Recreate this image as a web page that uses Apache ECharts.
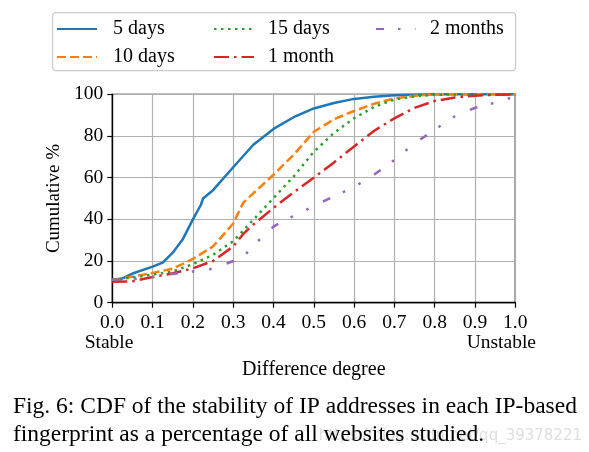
<!DOCTYPE html>
<html><head><meta charset="utf-8">
<script src="https://cdn.jsdelivr.net/npm/echarts@6/dist/echarts.min.js"></script>
<style>html,body{margin:0;padding:0;background:#fff}#c{width:589px;height:452px}</style>
</head><body><div id="c"></div>
<script>
// ---- data ----
const seriesNames = ['5 days', '10 days', '15 days', '1 month', '2 months'];
const xs5d  = [0, 0.02, 0.05, 0.1, 0.125, 0.15, 0.175, 0.2, 0.22, 0.225, 0.25, 0.3, 0.35, 0.4, 0.45, 0.5, 0.55, 0.6, 0.65, 0.7, 0.75, 0.8, 0.9, 1.0];
const ys5d  = [10.5, 11.2, 14, 17.3, 19.2, 24, 30.5, 40, 47, 50, 54, 65, 75.8, 83.4, 89, 93.2, 95.8, 97.8, 98.8, 99.5, 99.8, 100, 100, 100];
const xs10d = [0, 0.05, 0.1, 0.15, 0.2, 0.25, 0.3, 0.325, 0.35, 0.4, 0.45, 0.5, 0.55, 0.6, 0.65, 0.7, 0.75, 0.8, 0.9, 1.0];
const ys10d = [11, 12.5, 14.3, 16.3, 21, 27, 38, 48, 52.5, 61.4, 71, 82, 88, 92, 95.5, 98, 99.3, 100, 100, 100];
const xs15d = [0, 0.05, 0.1, 0.15, 0.2, 0.25, 0.3, 0.35, 0.4, 0.45, 0.5, 0.55, 0.6, 0.65, 0.7, 0.75, 0.8, 0.9, 1.0];
const ys15d = [11, 12, 13.5, 15, 18.5, 23, 29.5, 39.8, 50.2, 60.6, 72.4, 81.5, 88.5, 94, 97.5, 99, 99.8, 100, 100];
const xs1m  = [0, 0.05, 0.1, 0.15, 0.2, 0.25, 0.3, 0.325, 0.35, 0.4, 0.45, 0.5, 0.55, 0.6, 0.65, 0.7, 0.75, 0.8, 0.85, 0.9, 0.95, 1.0];
const ys1m  = [10, 10.3, 12.3, 14.1, 16.5, 20, 27, 33, 37.5, 45.5, 53, 60, 67.3, 75, 82.5, 88.5, 93.5, 96.8, 98.5, 99.3, 99.8, 100];
const xs2m  = [0, 0.05, 0.1, 0.15, 0.2, 0.25, 0.3, 0.33, 0.35, 0.4, 0.43, 0.47, 0.5, 0.55, 0.6, 0.65, 0.7, 0.75, 0.8, 0.85, 0.9, 0.95, 1.0];
const ys2m  = [11, 11.2, 12.3, 13.8, 15, 16.3, 20, 23, 27.5, 36.5, 39.8, 43.3, 46.5, 51, 55.5, 61.5, 68.5, 76.5, 83, 89.5, 93.5, 96, 99];
const xTicks = [0, 0.1, 0.2, 0.3, 0.4, 0.5, 0.6, 0.7, 0.8, 0.9, 1.0];
const yTicks = [0, 20, 40, 60, 80, 100];

const xsList = [xs5d, xs10d, xs15d, xs1m, xs2m];
const ysList = [ys5d, ys10d, ys15d, ys1m, ys2m];
const colors = ['#1f77b4', '#ff7f0e', '#2ca02c', '#d62728', '#9467bd'];
const dashes = ['solid', [9, 4], [2.5, 4.5], [15, 5, 2.5, 5], [8, 14, 2.5, 15, 2.5, 16]];

const serif = 'Liberation Serif';
const chart = echarts.init(document.getElementById('c'), null, {renderer: 'canvas'});

const series = seriesNames.map((n, i) => ({
  name: n, type: 'line', symbol: 'none', smooth: false,
  data: xsList[i].map((x, k) => [x, ysList[i][k]]),
  lineStyle: {color: colors[i], width: 2.5, type: dashes[i], cap: 'butt'},
  itemStyle: {color: colors[i]},
  z: 3 + i
}));

function legendAt(left, names, pad) {
  return {
    orient: 'vertical', top: 14, left: left, data: names,
    itemWidth: 40, itemHeight: 12, itemGap: 8,
    textStyle: {fontFamily: serif, fontSize: 20, color: '#000', padding: [0, 0, 0, pad]},
    itemStyle: {opacity: 0},
    inactiveColor: '#ccc'
  };
}

chart.setOption({
  animation: false,
  color: colors,
  grid: {left: 112.3, right: 73.7, top: 94.3, bottom: 149.3, show: true, borderColor: '#000', borderWidth: 1.3, containLabel: false},
  legend: [
    legendAt(51, ['5 days', '10 days'], 11),
    legendAt(208, ['15 days', '1 month'], 9),
    legendAt(370, ['2 months'], 9)
  ],
  xAxis: {
    type: 'value', min: xTicks[0], max: xTicks[xTicks.length - 1], interval: 0.1,
    name: 'Difference degree', nameLocation: 'middle', nameGap: 57,
    nameTextStyle: {fontFamily: serif, fontSize: 20, color: '#000'},
    axisLine: {show: true, lineStyle: {color: '#000', width: 1.3}},
    axisTick: {show: true, inside: false, length: 5, lineStyle: {color: '#000', width: 1.2}},
    axisLabel: {fontFamily: serif, fontSize: 19.5, color: '#000', margin: 10, formatter: v => v.toFixed(1)},
    splitLine: {show: true, lineStyle: {color: '#b0b0b0', width: 1.2}}
  },
  yAxis: {
    type: 'value', min: yTicks[0], max: yTicks[yTicks.length - 1], interval: 20,
    name: 'Cumulative %', nameLocation: 'middle', nameGap: 48, nameRotate: 90,
    nameTextStyle: {fontFamily: serif, fontSize: 19, color: '#000'},
    axisLine: {show: true, lineStyle: {color: '#000', width: 1.3}},
    axisTick: {show: true, inside: false, length: 5, lineStyle: {color: '#000', width: 1.2}},
    axisLabel: {fontFamily: serif, fontSize: 19.5, color: '#000', margin: 9},
    splitLine: {show: true, lineStyle: {color: '#b0b0b0', width: 1.2}}
  },
  graphic: [
    {type: 'rect', left: 52, top: 12, z: -1, silent: true,
     shape: {width: 463, height: 58, r: 3}, style: {fill: '#fff', stroke: '#cccccc', lineWidth: 1.2}},
    {type: 'text', x: 109, y: 343, silent: true,
     style: {text: 'Stable', fontFamily: serif, fontSize: 19.5, fill: '#000', textAlign: 'center', textVerticalAlign: 'middle'}},
    {type: 'text', x: 536, y: 343, silent: true,
     style: {text: 'Unstable', fontFamily: serif, fontSize: 19.5, fill: '#000', textAlign: 'right', textVerticalAlign: 'middle'}},
    {type: 'text', x: 582, y: 436, silent: true, z: 0,
     style: {text: 'https://blog.csdn.net/qq_39378221', fontFamily: 'DejaVu Sans', fontSize: 15, fill: 'rgba(190,190,190,0.5)', textAlign: 'right', textVerticalAlign: 'middle'}},
    {type: 'text', x: 13, y: 407, silent: true, z: 10,
     style: {text: 'Fig. 6: CDF of the stability of IP addresses in each IP-based', fontFamily: serif, fontSize: 23.5, fill: '#000', textAlign: 'left', textVerticalAlign: 'middle'}},
    {type: 'text', x: 13, y: 435, silent: true, z: 10,
     style: {text: 'fingerprint as a percentage of all websites studied.', fontFamily: serif, fontSize: 23.5, fill: '#000', textAlign: 'left', textVerticalAlign: 'middle'}}
  ],
  series: series
});
</script></body></html>
